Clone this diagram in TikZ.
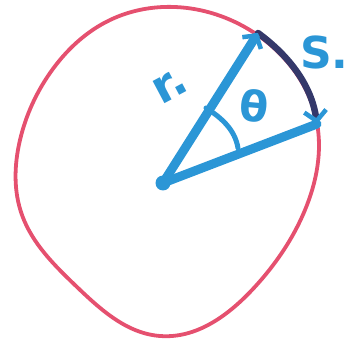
\documentclass[tikz,border=0pt]{standalone}
\usepackage{fontspec}
\setmainfont{DejaVu Sans}
\usetikzlibrary{arrows.meta,hobby}
\definecolor{pinkline}{HTML}{E5506F}
\definecolor{blueline}{HTML}{2B96D6}
\definecolor{navyline}{HTML}{34386A}
\tikzset{
  outline/.style={pinkline, line width=3.8pt, line join=round},
  radius line/.style={blueline, line width=9pt, line cap=round},
  arcline/.style={navyline, line width=6.5pt, line cap=round},
  hand/.style={blueline, font=\bfseries}
}
\begin{document}
\begin{tikzpicture}[x=1pt,y=-1pt]
\useasboundingbox (0,0) rectangle (349,345);
% egg-shaped outline
\draw[outline, use Hobby shortcut, closed=true]
 (175,7) .. (253,32) .. (317,123) .. (305,210) .. (252,290) .. (160,336)
 .. (77,287) .. (22,215) .. (20,140) .. (50,73) .. (110,20);
% points
\coordinate (o) at (163,183);
\coordinate (a) at (258,33);
\coordinate (b) at (317,124);
% arc s
\draw[arcline, -{Straight Barb[color=blueline, length=10pt, width=22pt, line width=4.5pt]}]
  (a) .. controls (292,58) and (312,88) .. (b);
% radii
\draw[radius line, -{Straight Barb[length=9pt, width=22pt, line width=4.5pt]}] (o) -- (a);
\draw[radius line] (o) -- (b);
\fill[blueline] (o) circle (7.5pt);
% angle arc
\draw[blueline, line width=5pt, line cap=round] (206,108) .. controls (222,118) and (235,130) .. (238,148);
% labels
\node[hand, rotate=28, font=\bfseries\fontsize{46}{46}\selectfont, inner sep=0pt] (r) at (170,86) {r.};
\node[hand, rotate=-5, font=\bfseries\fontsize{42}{42}\selectfont, inner sep=0pt] (t) at (254,106) {θ};
\node[hand, font=\bfseries\fontsize{44}{44}\selectfont, anchor=west, inner sep=0pt] (s) at (300,52) {S.};
\end{tikzpicture}
\end{document}
